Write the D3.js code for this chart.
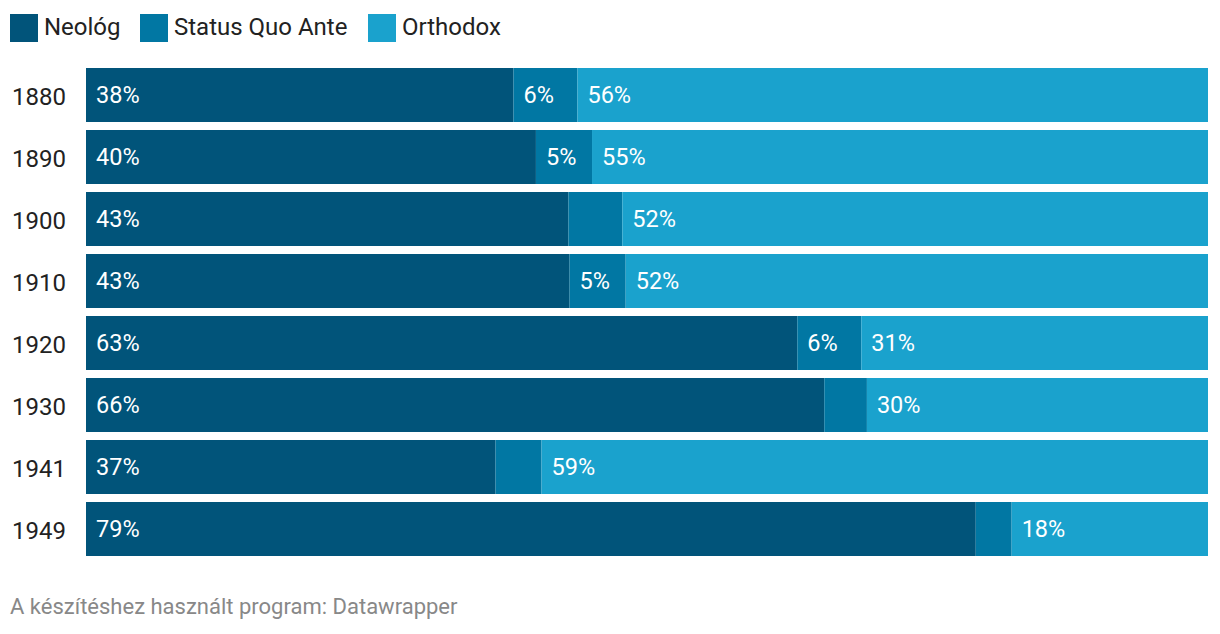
<!DOCTYPE html>
<html>
<head>
<meta charset="utf-8">
<script src="https://cdn.jsdelivr.net/npm/d3@7"></script>
<style>
  body { margin: 0; background: #fff; font-family: Roboto, "Noto Sans", sans-serif; }
</style>
</head>
<body>
<div id="chart"></div>
<script>
// data (percent shares)
var years = ["1880", "1890", "1900", "1910", "1920", "1930", "1941", "1949"];
var neolog = [38.1, 40.1, 43.0, 43.1, 63.4, 65.8, 36.5, 79.3];
var statusQuo = [5.7, 5.0, 4.8, 5.0, 5.7, 3.8, 4.1, 3.2];
var orthodox = [56.2, 54.9, 52.2, 51.9, 30.9, 30.4, 59.4, 17.5];
var seriesNames = ["Neológ", "Status Quo Ante", "Orthodox"];
var colors = ["#01547a", "#0177a3", "#1aa2cd"];

var width = 1220, height = 634;

var rows = years.map(function(y, i) {
  return { year: y, "Neológ": neolog[i], "Status Quo Ante": statusQuo[i], "Orthodox": orthodox[i] };
});

var svg = d3.select("#chart").append("svg")
  .attr("width", width)
  .attr("height", height);

var x = d3.scaleLinear().domain([0, 100]).range([86, 1208]);
var y = d3.scaleBand().domain(years).range([68, 556]).paddingInner(8 / 62).paddingOuter(0);
var color = d3.scaleOrdinal().domain(seriesNames).range(colors);

// legend
var legendX = [10, 140, 368];
var legend = svg.append("g").selectAll("g")
  .data(seriesNames)
  .enter().append("g")
  .attr("transform", function(d, i) { return "translate(" + legendX[i] + ",14)"; });
legend.append("rect")
  .attr("width", 28).attr("height", 28)
  .attr("fill", function(d) { return color(d); });
legend.append("text")
  .attr("x", 34).attr("y", 21)
  .attr("font-size", 24)
  .attr("fill", "#222")
  .text(function(d) { return d; });

// stacked bars
var stack = d3.stack().keys(seriesNames)(rows);

var layers = svg.append("g").selectAll("g")
  .data(stack)
  .enter().append("g")
  .attr("fill", function(d) { return color(d.key); });

layers.selectAll("rect")
  .data(function(d) { return d; })
  .enter().append("rect")
  .attr("x", function(d) { return x(d[0]); })
  .attr("y", function(d) { return y(d.data.year); })
  .attr("width", function(d) { return x(d[1]) - x(d[0]); })
  .attr("height", y.bandwidth());

// value labels, hidden when the segment is too narrow
layers.selectAll("text")
  .data(function(d) { return d; })
  .enter().append("text")
  .filter(function(d) { return d[1] - d[0] >= 4.9; })
  .attr("x", function(d) { return x(d[0]) + 10; })
  .attr("y", function(d) { return y(d.data.year) + y.bandwidth() / 2 + 8; })
  .attr("font-size", 23.5)
  .attr("fill", "#fff")
  .text(function(d) { return Math.round(d[1] - d[0]) + "%"; });

// year labels
svg.append("g").selectAll("text")
  .data(years)
  .enter().append("text")
  .attr("x", 12)
  .attr("y", function(d) { return y(d) + y.bandwidth() / 2 + 10; })
  .attr("font-size", 24)
  .attr("fill", "#222")
  .text(function(d) { return d; });

// footer
svg.append("text")
  .attr("x", 10).attr("y", 614)
  .attr("font-size", 22)
  .attr("fill", "#888")
  .text("A készítéshez használt program: Datawrapper");
</script>
</body>
</html>
